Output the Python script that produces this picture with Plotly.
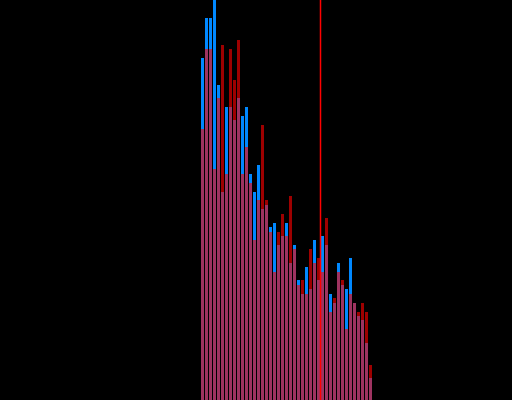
"""
Overlaid histograms on black, with a red marker line.
"""
import plotly.graph_objects as go

# bin index (bar centres)
bins = list(range(43))

# counts
blue_counts = [342, 382, 382, 402, 315, 208, 293, 293, 280, 302, 284,
               293, 226, 208, 235, 191, 195, 173, 177, 155, 164, 177,
               137, 155, 120, 106, 133, 111, 160, 120, 164, 155, 106,
               97, 137, 115, 111, 142, 97, 84, 80, 57, 22]
red_counts = [271, 351, 351, 231, 302, 355, 226, 351, 320, 360, 226,
              253, 217, 160, 200, 275, 200, 168, 128, 168, 186, 164,
              204, 151, 115, 120, 106, 151, 137, 142, 128, 182, 88,
              102, 128, 120, 71, 106, 97, 88, 97, 88, 35]

marker_x = 29.5

fig = go.Figure()
fig.add_trace(go.Bar(x=bins, y=blue_counts, width=0.75,
                     marker=dict(color="#0088ff", line=dict(width=0))))
fig.add_trace(go.Bar(x=bins, y=red_counts, width=0.75, opacity=0.62,
                     marker=dict(color="#ff0000", line=dict(width=0))))

fig.add_vline(x=marker_x, line_color="#ff0000", line_width=1.5)

fig.update_layout(
    barmode="overlay",
    width=512, height=400,
    margin=dict(l=0, r=0, t=0, b=0),
    paper_bgcolor="black", plot_bgcolor="black",
    showlegend=False,
    xaxis=dict(range=[-50.625, 77.375], visible=False),
    yaxis=dict(range=[0, 400], visible=False),
)

# drop the page margin so the chart fills the window, no modebar
fig.write_html("out.html",
               config={"displayModeBar": False},
               post_script="document.body.style.margin='0';"
                           "document.body.style.background='black';")
